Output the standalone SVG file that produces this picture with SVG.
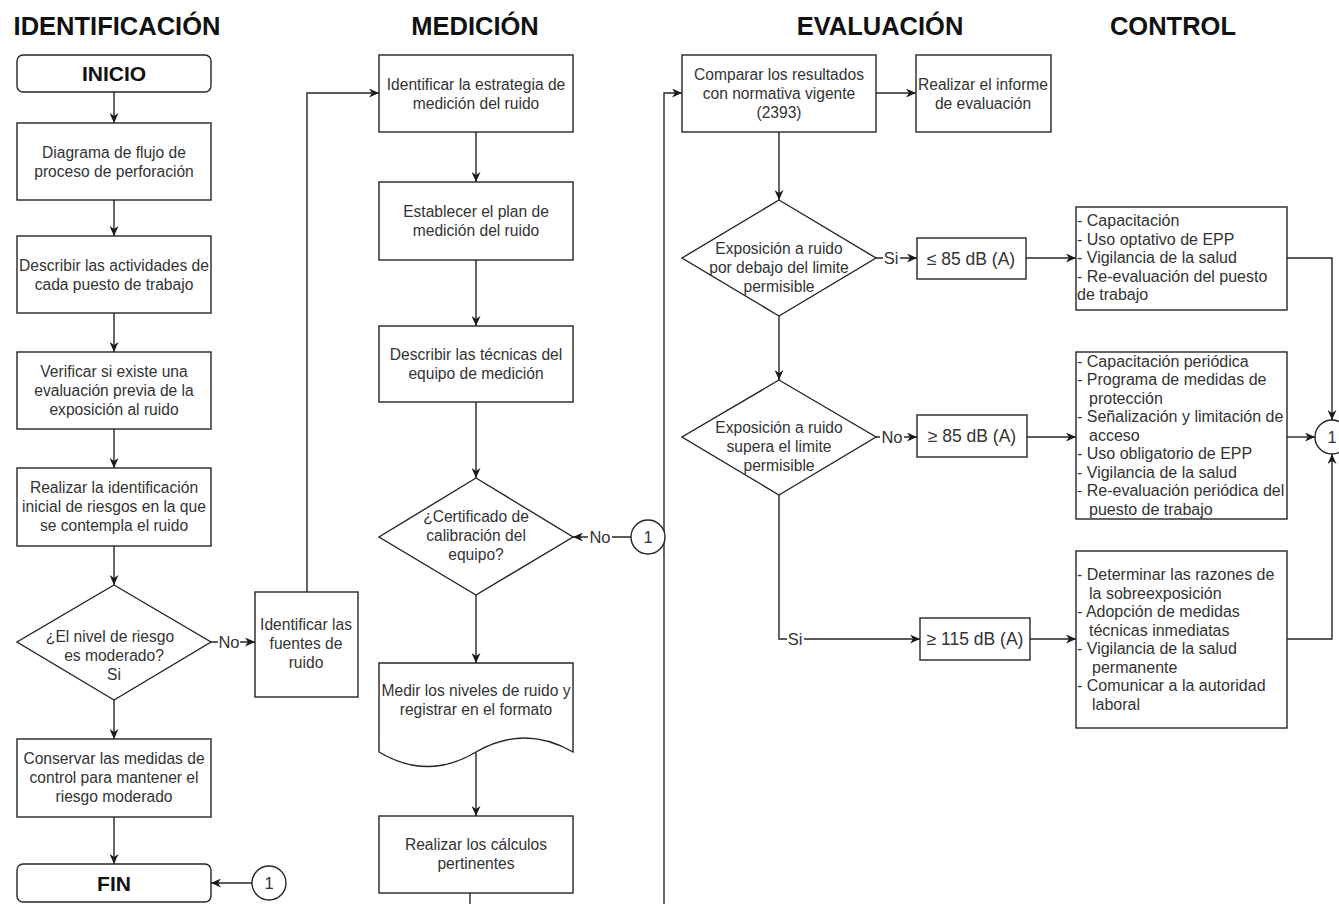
<svg xmlns="http://www.w3.org/2000/svg" width="1339" height="904" viewBox="0 0 1339 904">
<defs>
<marker id="arr" markerUnits="userSpaceOnUse" markerWidth="11" markerHeight="9" refX="10" refY="4.5" orient="auto">
<path d="M0,0 L10,4.5 L0,9 L3,4.5 Z" fill="#1a1a1a"/>
</marker>
</defs>
<style>
.box{fill:#fff;stroke:#262626;stroke-width:1.4}
.hd{font-family:"Liberation Sans",Arial,sans-serif;font-weight:bold;font-size:25.5px;fill:#111;text-anchor:middle}
.term{font-family:"Liberation Sans",Arial,sans-serif;font-weight:bold;font-size:21px;fill:#111;text-anchor:middle}
.t{font-family:"Liberation Sans",Arial,sans-serif;font-size:15.6px;fill:#333;text-anchor:middle}
.tl{font-family:"Liberation Sans",Arial,sans-serif;font-size:16px;fill:#333}
.num{font-family:"Liberation Sans",Arial,sans-serif;font-size:16.5px;fill:#333;text-anchor:middle}
.db{font-family:"Liberation Sans",Arial,sans-serif;font-size:17.5px;fill:#333;text-anchor:middle}
.lb{font-family:"Liberation Sans",Arial,sans-serif;font-size:16.5px;fill:#333;text-anchor:middle}
.ln{fill:none;stroke:#262626;stroke-width:1.4}
.la{fill:none;stroke:#262626;stroke-width:1.4;marker-end:url(#arr)}
.bg{fill:#fff}
</style>
<rect width="1339" height="904" fill="#fff"/>

<g id="headers">
<text class="hd" x="117" y="35">IDENTIFICACIÓN</text>
<text class="hd" x="475" y="35">MEDICIÓN</text>
<text class="hd" x="880" y="35">EVALUACIÓN</text>
<text class="hd" x="1173" y="35">CONTROL</text>
</g>

<g id="connectors">
<line class="la" x1="114" y1="92" x2="114" y2="123"/>
<line class="la" x1="114" y1="200" x2="114" y2="236"/>
<line class="la" x1="114" y1="313" x2="114" y2="352"/>
<line class="la" x1="114" y1="429" x2="114" y2="468"/>
<line class="la" x1="114" y1="546" x2="114" y2="585"/>
<line class="la" x1="114" y1="700" x2="114" y2="739"/>
<line class="la" x1="114" y1="817" x2="114" y2="864"/>
<line class="la" x1="252" y1="883" x2="211" y2="883"/>
<line class="la" x1="211" y1="642" x2="255" y2="642"/>
<rect class="bg" x="218" y="633" width="22" height="18"/>
<text class="lb" x="229" y="648">No</text>
<polyline class="la" points="307,592 307,93 379,93"/>

<line class="la" x1="476" y1="132" x2="476" y2="182"/>
<line class="la" x1="476" y1="260" x2="476" y2="326"/>
<line class="la" x1="476" y1="402" x2="476" y2="478"/>
<line class="la" x1="631" y1="537" x2="573" y2="537"/>
<rect class="bg" x="588" y="528" width="24" height="18"/>
<text class="lb" x="600" y="543">No</text>
<line class="la" x1="476" y1="595" x2="476" y2="663"/>
<line class="la" x1="476" y1="752" x2="476" y2="816"/>
<line class="ln" x1="470" y1="893" x2="470" y2="904"/>

<polyline class="la" points="664,904 664,93 682,93"/>
<line class="la" x1="876" y1="93" x2="916" y2="93"/>
<line class="la" x1="779" y1="132" x2="779" y2="200"/>
<line class="la" x1="876" y1="258" x2="917" y2="258"/>
<rect class="bg" x="883" y="249" width="17" height="18"/>
<text class="lb" x="891" y="264">Si</text>
<line class="la" x1="779" y1="316" x2="779" y2="380"/>
<line class="la" x1="876" y1="437" x2="917" y2="437"/>
<rect class="bg" x="880" y="428" width="24" height="18"/>
<text class="lb" x="892" y="443">No</text>
<polyline class="la" points="779,495 779,639 920,639"/>
<rect class="bg" x="787" y="630" width="17" height="18"/>
<text class="lb" x="795" y="645">Si</text>
<line class="la" x1="1026" y1="258" x2="1076" y2="258"/>
<line class="la" x1="1027" y1="437" x2="1076" y2="437"/>
<line class="la" x1="1030" y1="639" x2="1076" y2="639"/>

<polyline class="la" points="1287,258 1332,258 1332,420"/>
<line class="la" x1="1287" y1="437" x2="1315" y2="437"/>
<polyline class="la" points="1287,639 1332,639 1332,454"/>
</g>

<g id="n-inicio">
<rect class="box" x="17" y="55" width="194" height="37" rx="6"/>
<text class="term" x="114" y="81">INICIO</text>
</g>
<g id="n-diagrama">
<rect class="box" x="17" y="123" width="194" height="77"/>
<text class="t" x="114" y="158">Diagrama de flujo de</text>
<text class="t" x="114" y="177">proceso de perforación</text>
</g>
<g id="n-describir">
<rect class="box" x="17" y="236" width="194" height="77"/>
<text class="t" x="114" y="271">Describir las actividades de</text>
<text class="t" x="114" y="290">cada puesto de trabajo</text>
</g>
<g id="n-verificar">
<rect class="box" x="17" y="352" width="194" height="77"/>
<text class="t" x="114" y="377">Verificar si existe una</text>
<text class="t" x="114" y="396">evaluación previa de la</text>
<text class="t" x="114" y="415">exposición al ruido</text>
</g>
<g id="n-identinicial">
<rect class="box" x="17" y="468" width="194" height="78"/>
<text class="t" x="114" y="493">Realizar la identificación</text>
<text class="t" x="114" y="512">inicial de riesgos en la que</text>
<text class="t" x="114" y="531">se contempla el ruido</text>
</g>
<g id="n-nivel">
<polygon class="box" points="114,585 211,642 114,700 17,642"/>
<text class="t" x="110" y="642">¿El nivel de riesgo</text>
<text class="t" x="114" y="661">es moderado?</text>
<text class="t" x="114" y="680">Si</text>
</g>
<g id="n-fuentes">
<rect class="box" x="255" y="592" width="103" height="105"/>
<text class="t" x="306" y="630">Identificar las</text>
<text class="t" x="306" y="649">fuentes de</text>
<text class="t" x="306" y="668">ruido</text>
</g>
<g id="n-conservar">
<rect class="box" x="17" y="739" width="194" height="78"/>
<text class="t" x="114" y="764">Conservar las medidas de</text>
<text class="t" x="114" y="783">control para mantener el</text>
<text class="t" x="114" y="802">riesgo moderado</text>
</g>
<g id="n-fin">
<rect class="box" x="17" y="864" width="194" height="38" rx="6"/>
<text class="term" x="114" y="891">FIN</text>
</g>
<g id="n-c1a">
<circle class="box" cx="269" cy="883" r="17"/>
<text class="num" x="269" y="889">1</text>
</g>

<g id="n-estrategia">
<rect class="box" x="379" y="55" width="194" height="77"/>
<text class="t" x="476" y="90">Identificar la estrategia de</text>
<text class="t" x="476" y="109">medición del ruido</text>
</g>
<g id="n-plan">
<rect class="box" x="379" y="182" width="194" height="78"/>
<text class="t" x="476" y="217">Establecer el plan de</text>
<text class="t" x="476" y="236">medición del ruido</text>
</g>
<g id="n-tecnicas">
<rect class="box" x="379" y="326" width="194" height="76"/>
<text class="t" x="476" y="360">Describir las técnicas del</text>
<text class="t" x="476" y="379">equipo de medición</text>
</g>
<g id="n-certificado">
<polygon class="box" points="476,478 573,537 476,595 379,537"/>
<text class="t" x="476" y="522">¿Certificado de</text>
<text class="t" x="476" y="541">calibración del</text>
<text class="t" x="476" y="560">equipo?</text>
</g>
<g id="n-c1b">
<circle class="box" cx="648" cy="537" r="17"/>
<text class="num" x="648" y="543">1</text>
</g>
<g id="n-medir">
<path class="box" d="M379,663 H573 V752 Q524.5,724 476,752 Q427.5,781 379,752 Z"/>
<text class="t" x="476" y="696">Medir los niveles de ruido y</text>
<text class="t" x="476" y="715">registrar en el formato</text>
</g>
<g id="n-calculos">
<rect class="box" x="379" y="816" width="194" height="77"/>
<text class="t" x="476" y="850">Realizar los cálculos</text>
<text class="t" x="476" y="869">pertinentes</text>
</g>

<g id="n-comparar">
<rect class="box" x="682" y="55" width="194" height="77"/>
<text class="t" x="779" y="80">Comparar los resultados</text>
<text class="t" x="779" y="99">con normativa vigente</text>
<text class="t" x="779" y="118">(2393)</text>
</g>
<g id="n-informe">
<rect class="box" x="916" y="55" width="135" height="77"/>
<text class="t" x="983" y="90">Realizar el informe</text>
<text class="t" x="983" y="109">de evaluación</text>
</g>
<g id="n-debajo">
<polygon class="box" points="779,200 876,258 779,316 682,258"/>
<text class="t" x="779" y="254">Exposición a ruido</text>
<text class="t" x="779" y="273">por debajo del limite</text>
<text class="t" x="779" y="292">permisible</text>
</g>
<g id="n-le85">
<rect class="box" x="917" y="238" width="109" height="41"/>
<text class="db" x="971" y="265">≤ 85 dB (A)</text>
</g>
<g id="n-supera">
<polygon class="box" points="779,380 876,437 779,495 682,437"/>
<text class="t" x="779" y="433">Exposición a ruido</text>
<text class="t" x="779" y="452">supera el limite</text>
<text class="t" x="779" y="471">permisible</text>
</g>
<g id="n-ge85">
<rect class="box" x="917" y="415" width="110" height="42"/>
<text class="db" x="972" y="442">≥ 85 dB (A)</text>
</g>
<g id="n-ge115">
<rect class="box" x="920" y="618" width="110" height="42"/>
<text class="db" x="975" y="645">≥ 115 dB (A)</text>
</g>

<g id="n-ctrl1">
<rect class="box" x="1076" y="207" width="211" height="103"/>
<text class="tl" x="1077" y="226">- Capacitación</text>
<text class="tl" x="1077" y="244.5">- Uso optativo de EPP</text>
<text class="tl" x="1077" y="263">- Vigilancia de la salud</text>
<text class="tl" x="1077" y="281.5">- Re-evaluación del puesto</text>
<text class="tl" x="1077" y="300">de trabajo</text>
</g>
<g id="n-ctrl2">
<rect class="box" x="1076" y="352" width="211" height="167"/>
<text class="tl" x="1077" y="366.5">- Capacitación periódica</text>
<text class="tl" x="1077" y="385">- Programa de medidas de</text>
<text class="tl" x="1089" y="403.5">protección</text>
<text class="tl" x="1077" y="422">- Señalización y limitación de</text>
<text class="tl" x="1089" y="440.5">acceso</text>
<text class="tl" x="1077" y="459">- Uso obligatorio de EPP</text>
<text class="tl" x="1077" y="477.5">- Vigilancia de la salud</text>
<text class="tl" x="1077" y="496">- Re-evaluación periódica del</text>
<text class="tl" x="1089" y="514.5">puesto de trabajo</text>
</g>
<g id="n-ctrl3">
<rect class="box" x="1076" y="551" width="211" height="177"/>
<text class="tl" x="1077" y="580">- Determinar las razones de</text>
<text class="tl" x="1089" y="598.5">la sobreexposición</text>
<text class="tl" x="1077" y="617">- Adopción de medidas</text>
<text class="tl" x="1089" y="635.5">técnicas inmediatas</text>
<text class="tl" x="1077" y="654">- Vigilancia de la salud</text>
<text class="tl" x="1092" y="672.5">permanente</text>
<text class="tl" x="1077" y="691">- Comunicar a la autoridad</text>
<text class="tl" x="1092" y="709.5">laboral</text>
</g>
<g id="n-c1c">
<circle class="box" cx="1332" cy="437" r="17"/>
<text class="num" x="1332" y="443">1</text>
</g>
</svg>
